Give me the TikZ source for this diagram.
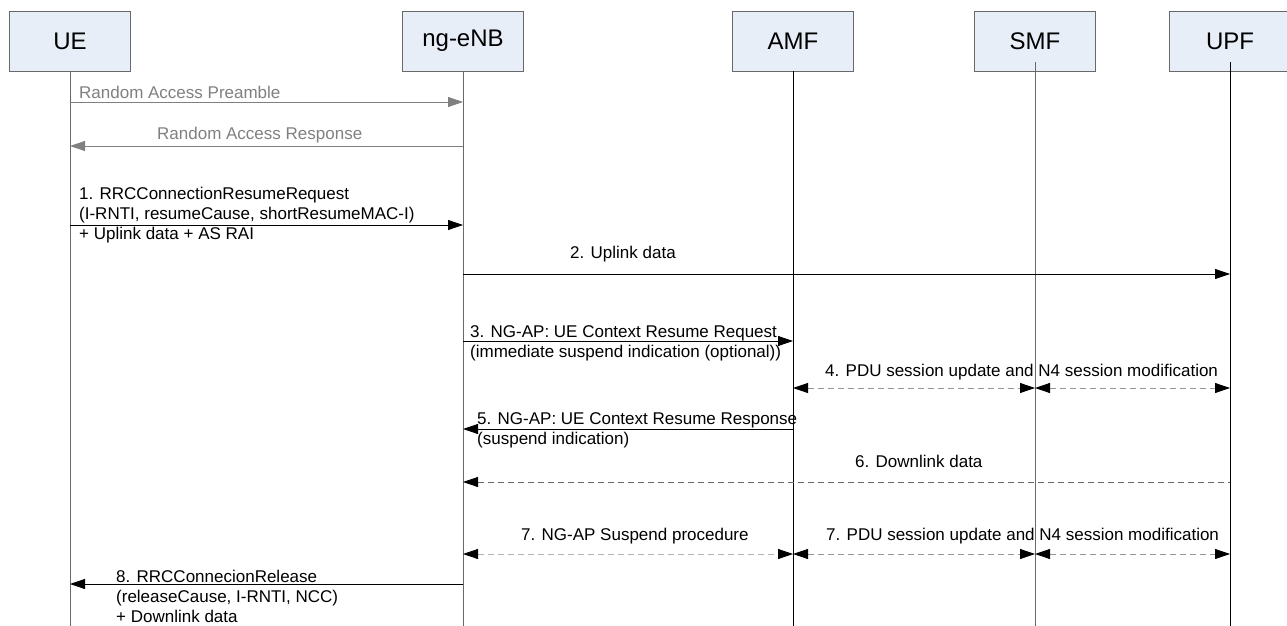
\documentclass[tikz,border=0pt]{standalone}
\usepackage{fontspec}
\setmainfont{Liberation Sans}
\usepackage{xcolor}
\usepackage{tikz}
\usetikzlibrary{arrows.meta}
\definecolor{boxblue}{RGB}{232,238,248}
\definecolor{linegray}{RGB}{105,105,105}
\definecolor{dashgray}{RGB}{150,150,150}
\definecolor{ragray}{RGB}{128,128,128}

\begin{document}
\begin{tikzpicture}[
    x=1pt, y=-1pt,
    >={Triangle[length=15pt, width=10pt]},
    entity/.style={draw=linegray, fill=boxblue, minimum width=121pt, minimum height=60pt, inner sep=0pt, font=\fontsize{24}{28}\selectfont},
    life/.style={draw=linegray, line width=1pt},
    msg/.style={->, line width=0.8pt},
    ramsg/.style={->, draw=ragray, line width=0.8pt},
    dashmsg/.style={{Triangle[length=15pt, width=10pt, black]}-{Triangle[length=15pt, width=10pt, black]}, draw=dashgray, dash pattern=on 6pt off 4pt, line width=0.8pt},
    msglabel/.style={anchor=base west, inner sep=0pt, align=left, font=\fontsize{17}{20}\selectfont},
]
    \useasboundingbox (0,0) rectangle (1287,626);

    % entities
    \node[entity] (ue) at (70,41) {UE};
    \node[entity] (enb) at (463,41) {ng-eNB};
    \node[entity] (amf) at (793,41) {AMF};
    \node[entity] (smf) at (1035,41) {SMF};
    \node[entity] (upf) at (1230,41) {UPF};

    % lifelines
    \draw[life] (ue.south) -- (ue |- 0,626);
    \draw[life] (enb.south) -- (enb |- 0,626);
    \draw[life, draw=black] (amf.south) -- (amf |- 0,626);
    \draw[life] (smf |- 0,62) -- (smf |- 0,626);
    \draw[life, draw=black] (upf |- 0,62) -- (upf |- 0,626);

    % random access
    \draw[ramsg] (ue |- 0,102) -- (enb |- 0,102);
    \node[msglabel, text=ragray] (rapre) at (79,98) {Random Access Preamble};
    \draw[ramsg] (enb |- 0,146) -- (ue |- 0,146);
    \node[msglabel, text=ragray] (raresp) at (157,139) {Random Access Response};

    % 1 (label placed at baseline of its last line)
    \draw[msg] (ue |- 0,225) -- (enb |- 0,225);
    \node[msglabel] (resumereq) at (79,239) {1. RRCConnectionResumeRequest\\(I-RNTI, resumeCause, shortResumeMAC-I)\\+ Uplink data + AS RAI};

    % 2
    \draw[msg] (enb |- 0,274) -- (upf |- 0,274);
    \node[msglabel] (uldata) at (570,258) {2. Uplink data};

    % 3
    \draw[msg] (enb |- 0,341) -- (amf |- 0,341);
    \node[msglabel] (ctxreq) at (470,357) {3. NG-AP: UE Context Resume Request\\(immediate suspend indication (optional))};

    % 4
    \draw[dashmsg] (amf |- 0,388) -- (smf |- 0,388);
    \draw[dashmsg] (smf |- 0,388) -- (upf |- 0,388);
    \node[msglabel] (pduupd) at (825,376) {4. PDU session update and N4 session modification};

    % 5
    \draw[msg] (amf |- 0,429) -- (enb |- 0,429);
    \node[msglabel] (ctxresp) at (477,444) {5. NG-AP: UE Context Resume Response\\(suspend indication)};

    % 6
    \draw[dashmsg, {Triangle[length=15pt, width=10pt, black]}-, draw=linegray] (enb |- 0,482) -- (upf |- 0,482);
    \node[msglabel] (dldata) at (855,467) {6. Downlink data};

    % 7
    \draw[dashmsg, draw=lightgray!80!gray] (enb |- 0,554) -- (amf |- 0,554);
    \node[msglabel] (suspend) at (521,540) {7. NG-AP Suspend procedure};
    \draw[dashmsg] (amf |- 0,554) -- (smf |- 0,554);
    \draw[dashmsg] (smf |- 0,554) -- (upf |- 0,554);
    \node[msglabel] (pduupd2) at (826,540) {7. PDU session update and N4 session modification};

    % 8
    \draw[msg] (enb |- 0,584) -- (ue |- 0,584);
    \node[msglabel] (release) at (116,622) {8. RRCConnecionRelease\\(releaseCause, I-RNTI, NCC)\\+ Downlink data};
\end{tikzpicture}
\end{document}
